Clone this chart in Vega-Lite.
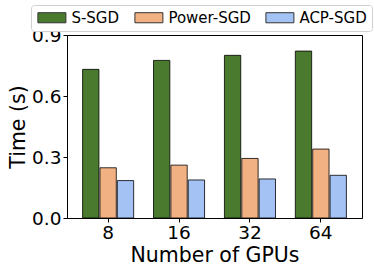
{
  "$schema": "https://vega.github.io/schema/vega-lite/v6.json",
  "width": 295,
  "height": 183,
  "autosize": "none",
  "padding": {"left": 67, "top": 35, "right": 12, "bottom": 54},
  "background": "white",
  "config": {
    "font": "DejaVu Sans",
    "view": {"stroke": "black", "strokeWidth": 1}
  },
  "data": {
    "values": [
      {"gpus": 8, "method": "S-SGD", "time": 0.731},
      {"gpus": 8, "method": "Power-SGD", "time": 0.247},
      {"gpus": 8, "method": "ACP-SGD", "time": 0.184},
      {"gpus": 16, "method": "S-SGD", "time": 0.775},
      {"gpus": 16, "method": "Power-SGD", "time": 0.26},
      {"gpus": 16, "method": "ACP-SGD", "time": 0.187},
      {"gpus": 32, "method": "S-SGD", "time": 0.80},
      {"gpus": 32, "method": "Power-SGD", "time": 0.293},
      {"gpus": 32, "method": "ACP-SGD", "time": 0.192},
      {"gpus": 64, "method": "S-SGD", "time": 0.821},
      {"gpus": 64, "method": "Power-SGD", "time": 0.339},
      {"gpus": 64, "method": "ACP-SGD", "time": 0.21}
    ]
  },
  "mark": {"type": "bar", "stroke": "black", "strokeWidth": 1, "strokeOpacity": 0.8},
  "encoding": {
    "x": {
      "field": "gpus",
      "type": "ordinal",
      "scale": {"paddingInner": 0.28, "paddingOuter": 0.22},
      "axis": {
        "title": "Number of GPUs",
        "titleFontSize": 20.5,
        "titleFontWeight": "normal",
        "titleColor": "black",
        "titlePadding": 4,
        "labelAngle": 0,
        "labelFontSize": 18.5,
        "labelColor": "black",
        "labelPadding": 1,
        "domainColor": "black",
        "tickColor": "black",
        "tickSize": 4
      }
    },
    "xOffset": {
      "field": "method",
      "type": "nominal",
      "sort": ["S-SGD", "Power-SGD", "ACP-SGD"],
      "scale": {"paddingInner": 0.06}
    },
    "y": {
      "field": "time",
      "type": "quantitative",
      "scale": {"domain": [0, 0.9], "nice": false},
      "axis": {
        "title": "Time (s)",
        "values": [0, 0.3, 0.6, 0.9],
        "format": ".1f",
        "grid": false,
        "titleFontSize": 20.5,
        "titleFontWeight": "normal",
        "titleColor": "black",
        "titlePadding": 3,
        "labelFontSize": 18.5,
        "labelColor": "black",
        "labelPadding": 2,
        "domainColor": "black",
        "tickColor": "black",
        "tickSize": 4
      }
    },
    "fill": {
      "field": "method",
      "type": "nominal",
      "sort": ["S-SGD", "Power-SGD", "ACP-SGD"],
      "scale": {"domain": ["S-SGD", "Power-SGD", "ACP-SGD"], "range": ["#4a7a2e", "#f2b183", "#a4c2f4"]},
      "legend": {
        "title": null,
        "orient": "none",
        "legendX": -36,
        "legendY": -30,
        "direction": "horizontal",
        "symbolType": "M-2.5,-0.9h5v1.8h-5z",
        "symbolSize": 125.4,
        "symbolOffset": 8.4,
        "symbolStrokeColor": "#333333",
        "symbolStrokeWidth": 1,
        "labelFontSize": 15,
        "labelColor": "black",
        "labelOffset": 12,
        "columnPadding": 12,
        "padding": 5,
        "strokeColor": "#d0d0d0",
        "fillColor": "white",
        "cornerRadius": 3
      }
    }
  }
}
